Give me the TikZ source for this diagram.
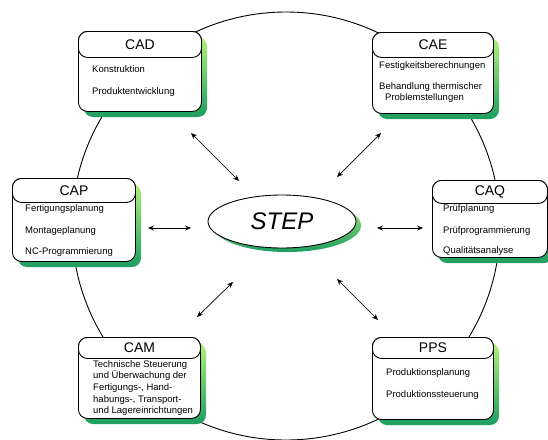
\documentclass[tikz,border=0pt]{standalone}
\usepackage{fontspec}
\setmainfont{Liberation Sans}
\usetikzlibrary{arrows.meta,shapes.geometric}

\definecolor{shlight}{RGB}{178,240,122}
\definecolor{shdark}{RGB}{28,158,96}

\tikzset{
  frame/.style={draw=black, line width=0.9pt, fill=white, rounded corners=9pt, inner sep=0pt},
  shadowbox/.style={top color=shlight, bottom color=shdark, rounded corners=9pt},
  ring/.style={draw=black, line width=0.9pt},
  title/.style={font=\fontsize{14}{16}\selectfont, inner sep=0pt},
  item/.style={font=\fontsize{9.5}{11.6}\selectfont, anchor=west, inner sep=0pt, align=left},
  link/.style={{Stealth[length=6pt,width=5pt]}-{Stealth[length=6pt,width=5pt]}, line width=0.7pt},
}

% module box: name, left, top, right, bottom, header bottom, title
\newcommand\modbox[7]{%
  \shade[shadowbox] (#2+6,#3+6) rectangle (#4+6,#5+6);
  \node[frame, anchor=north west, minimum width={(#4-#2)*1pt}, minimum height={(#5-#3)*1pt}] (#1) at (#2,#3) {};
  \node[frame, anchor=north west, minimum width={(#4-#2)*1pt}, minimum height={(#6-#3)*1pt}] (#1-head) at (#2,#3) {};
  \node[title] (#1-title) at (#1-head.center) {#7};
}

\begin{document}
\begin{tikzpicture}[x=1pt, y=-1pt]
  \useasboundingbox (0,0) rectangle (548,439);

  % surrounding ring
  \draw[ring] (286,226) circle (214);

  % modules
  \modbox{cad}{78}{31}{201}{111}{57}{CAD}
  \modbox{cae}{372}{32}{493}{113}{57}{CAE}
  \modbox{cap}{12}{178}{135}{261}{202}{CAP}
  \modbox{caq}{432}{180}{547}{257}{203}{CAQ}
  \modbox{cam}{78}{337}{200}{418}{358}{CAM}
  \modbox{pps}{372}{337}{493}{419}{358}{PPS}

  % central ellipse
  \shade[top color=shlight, bottom color=shdark] (287,225.5) ellipse (74 and 26.5);
  \node[draw=black, line width=0.9pt, fill=white, ellipse, inner sep=0pt,
        minimum width=148pt, minimum height=53pt,
        font=\fontsize{24}{28}\selectfont\itshape] (step) at (282,221.5) {STEP};

  % module contents
  \node[item] (cad-a) at (92,69) {Konstruktion};
  \node[item] (cad-b) at (92,92) {Produktentwicklung};

  \node[item] (cae-a) at (379,66) {Festigkeitsberechnungen};
  \node[item] (cae-b) at (379,87) {Behandlung thermischer};
  \node[item] (cae-c) at (385,98) {Problemstellungen};

  \node[item] (cap-a) at (25,209) {Fertigungsplanung};
  \node[item] (cap-b) at (25,231) {Montageplanung};
  \node[item] (cap-c) at (25,252) {NC-Programmierung};

  \node[item] (caq-a) at (443,209) {Prüfplanung};
  \node[item] (caq-b) at (443,231) {Prüfprogrammierung};
  \node[item] (caq-c) at (443,251) {Qualitätsanalyse};

  \node[item] (cam-a) at (93,388) {Technische Steuerung\\und Überwachung der\\Fertigungs-, Hand-\\habungs-, Transport-\\und Lagereinrichtungen};

  \node[item] (pps-a) at (386,373) {Produktionsplanung};
  \node[item] (pps-b) at (386,395) {Produktionssteuerung};

  % arrow end points
  \coordinate (l1a) at (191,133); \coordinate (l1b) at (239,181);
  \coordinate (l2a) at (381,133); \coordinate (l2b) at (337,177);
  \coordinate (l3a) at (148,228); \coordinate (l3b) at (191,228);
  \coordinate (l4a) at (377,228); \coordinate (l4b) at (423,228);
  \coordinate (l5a) at (197,317); \coordinate (l5b) at (233,282);
  \coordinate (l6a) at (337,279); \coordinate (l6b) at (378,320);

  \draw[link] (l1a) -- (l1b);
  \draw[link] (l2a) -- (l2b);
  \draw[link] (l3a) -- (l3b);
  \draw[link] (l4a) -- (l4b);
  \draw[link] (l5a) -- (l5b);
  \draw[link] (l6a) -- (l6b);
\end{tikzpicture}
\end{document}
